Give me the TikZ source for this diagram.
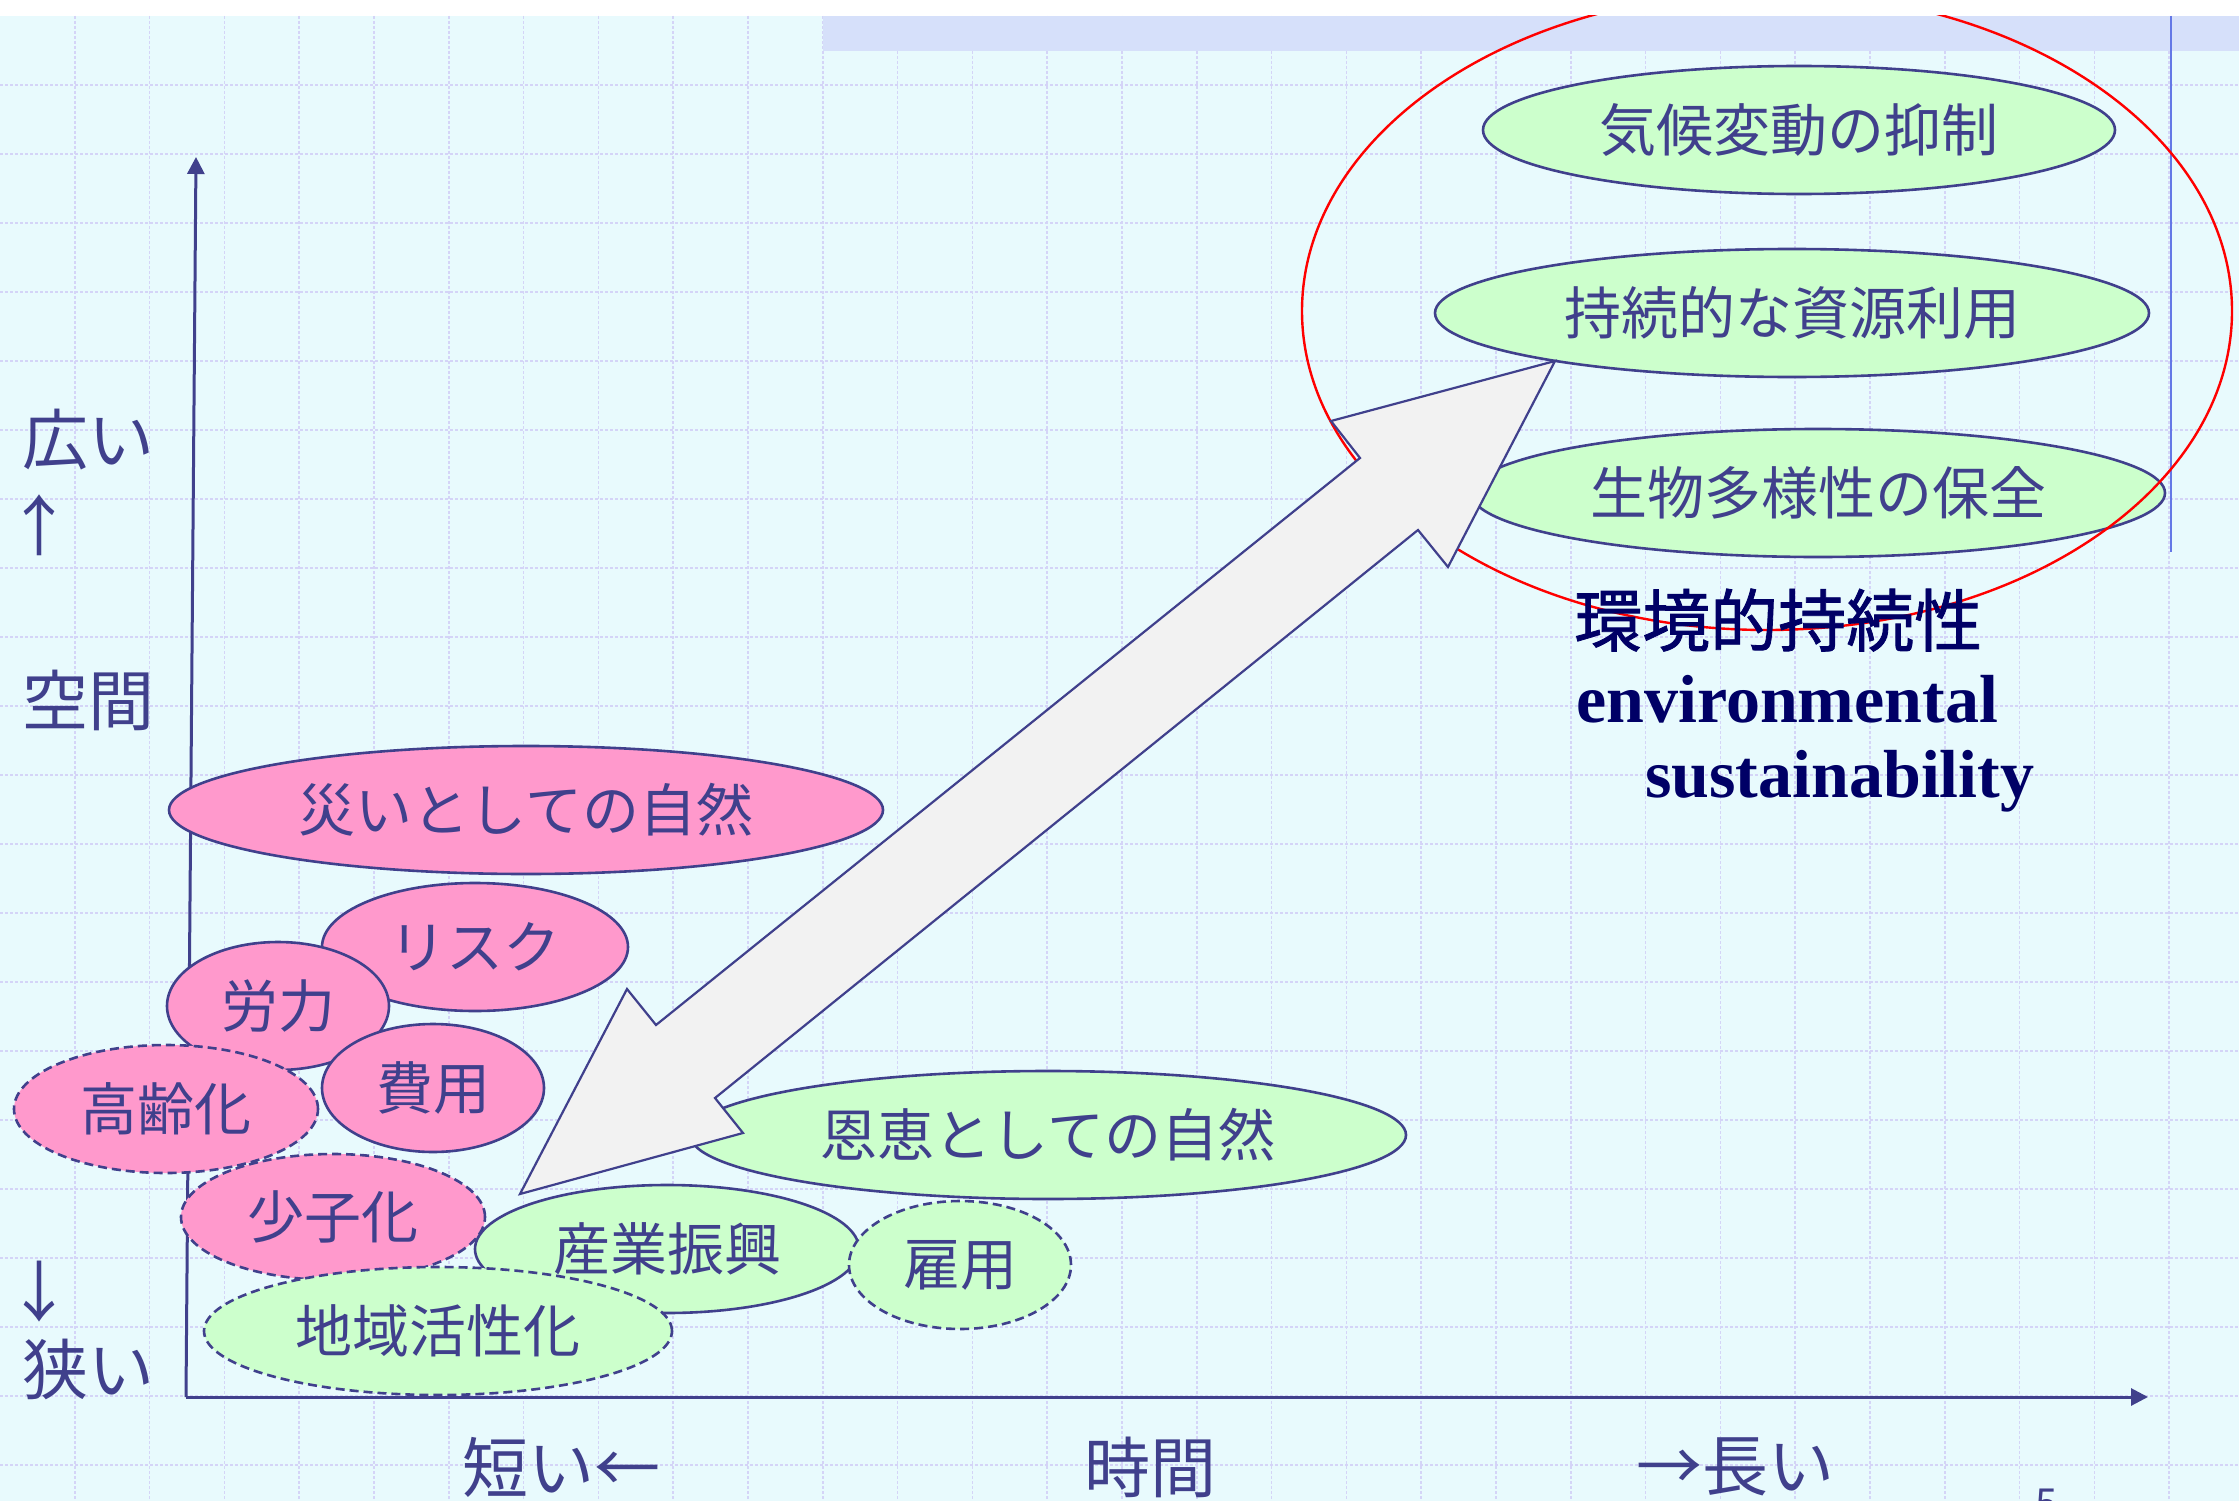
\documentclass[tikz,border=0pt]{standalone}
\usepackage{fontspec}
\setmainfont{Liberation Serif}
\newfontfamily\jp{Noto Sans CJK JP}
\newfontfamily\jpb[FakeBold=1.2]{Noto Sans CJK JP}
\usetikzlibrary{shapes.geometric,arrows.meta}
\definecolor{bgc}{RGB}{232,250,253}
\definecolor{gridc}{RGB}{212,212,247}
\definecolor{bandc}{RGB}{214,224,250}
\definecolor{linec}{RGB}{64,64,140}
\definecolor{textc}{RGB}{64,64,140}
\definecolor{navyc}{RGB}{0,0,102}
\definecolor{greenf}{RGB}{204,255,204}
\definecolor{pinkf}{RGB}{255,153,204}
\definecolor{arrowf}{RGB}{242,242,242}
\definecolor{bluel}{RGB}{100,120,230}
\tikzset{
  ell/.style={ellipse, draw=linec, line width=2.6pt, inner sep=0pt, text=textc,
    font=\jp\fontsize{57}{60}\selectfont},
  gr/.style={ell, fill=greenf},
  pk/.style={ell, fill=pinkf},
  dsh/.style={dash pattern=on 9pt off 5pt},
  gline/.style={draw=gridc, line width=1.6pt, dash pattern=on 3pt off 2pt},
  axis/.style={draw=linec, line width=3pt, -{Triangle[length=17pt,width=17pt]}},
  lab/.style={text=textc, inner sep=0pt, font=\jp\fontsize{66}{70}\selectfont},
}
\begin{document}
\begin{tikzpicture}[x=1pt,y=-1pt]
\useasboundingbox (0,0) rectangle (2239,1501);
\fill[white] (0,0) rectangle (2239,1501);
\begin{scope}
\clip (0,16) rectangle (2239,1501);
\fill[bgc] (0,16) rectangle (2239,1501);
\foreach \i in {1,...,29} \draw[gline] (\i*74.8,16) -- (\i*74.8,1501);
\foreach \j in {1,...,21} \draw[gline] (0,16+\j*69) -- (2239,16+\j*69);
\fill[bandc] (823,16) rectangle (2239,51);
\draw[bluel, line width=2pt] (2171,16) -- (2171,552);

% axes
\coordinate (O) at (186,1397);
\coordinate (ytop) at (196,157);
\coordinate (xend) at (2148,1397);
\draw[axis] (O) -- (ytop);
\draw[axis] (O) -- (xend);

% pink ellipses
\node[pk, minimum width=714pt, minimum height=128pt] (wazawai) at (526,810) {災いとしての自然};
\node[pk, minimum width=306pt, minimum height=128pt] (risk) at (475,947) {リスク};
\node[pk, minimum width=222pt, minimum height=128pt] (roryoku) at (278,1006) {労力};
\node[pk, minimum width=222pt, minimum height=128pt] (hiyo) at (433,1088) {費用};
\node[pk, dsh, minimum width=304pt, minimum height=128pt] (korei) at (166,1109) {高齢化};
\node[pk, dsh, minimum width=304pt, minimum height=126pt] (shoshi) at (333,1217) {少子化};

% green ellipses (lower)
\node[gr, minimum width=716pt, minimum height=128pt] (onkei) at (1048,1135) {恩恵としての自然};
\node[gr, minimum width=384pt, minimum height=128pt] (sangyo) at (667,1249) {産業振興};
\node[gr, dsh, minimum width=222pt, minimum height=128pt] (koyo) at (960,1265) {雇用};
\node[gr, dsh, minimum width=468pt, minimum height=128pt] (chiiki) at (438,1331) {地域活性化};

% green ellipses (upper)
\node[gr, minimum width=632pt, minimum height=128pt] (kiko) at (1799,130) {気候変動の抑制};
\node[gr, minimum width=714pt, minimum height=128pt] (jizoku) at (1792,313) {持続的な資源利用};
\node[gr, minimum width=694pt, minimum height=128pt] (seibutsu) at (1818,493) {生物多様性の保全};

% red ellipse
\node[ellipse, draw=red, line width=2.4pt, minimum width=930pt, minimum height=638pt, inner sep=0pt] (env) at (1767,311) {};

% double arrow
\draw[linec, line width=2.2pt, fill=arrowf, line join=miter]
  (1555,361) -- (1448,567) -- (1418,530) -- (715,1098) -- (743,1133) -- (520,1194)
  -- (627,989) -- (656,1025) -- (1360,458) -- (1331,421) -- cycle;

% texts
\node[anchor=base west, inner sep=0pt, text=navyc, font=\jpb\fontsize{68}{70}\selectfont] (kankyo) at (1574,646) {環境的持続性};
\node[anchor=base west, inner sep=0pt, text=navyc, font=\bfseries\fontsize{68}{70}\selectfont] (envir) at (1576,722) {environmental};
\node[anchor=base west, inner sep=0pt, text=navyc, font=\bfseries\fontsize{68}{70}\selectfont] (sust) at (1645,797) {sustainability};

\node[lab] (hiroi) at (89,440) {広い};
\node[lab] (up) at (39,525) {↑};
\node[lab] (kukan) at (89,700) {空間};
\node[lab] (down) at (39,1292) {↓};
\node[lab] (semai) at (89,1369) {狭い};

\node[lab] (mijikai) at (561,1467) {短い←};
\node[lab] (jikan) at (1150,1467) {時間};
\node[lab] (nagai) at (1735,1467) {→長い};

\node[anchor=base, inner sep=0pt, text=textc, font=\jp\fontsize{40}{44}\selectfont] (pg) at (2047,1517) {5};
\end{scope}
\end{tikzpicture}
\end{document}
